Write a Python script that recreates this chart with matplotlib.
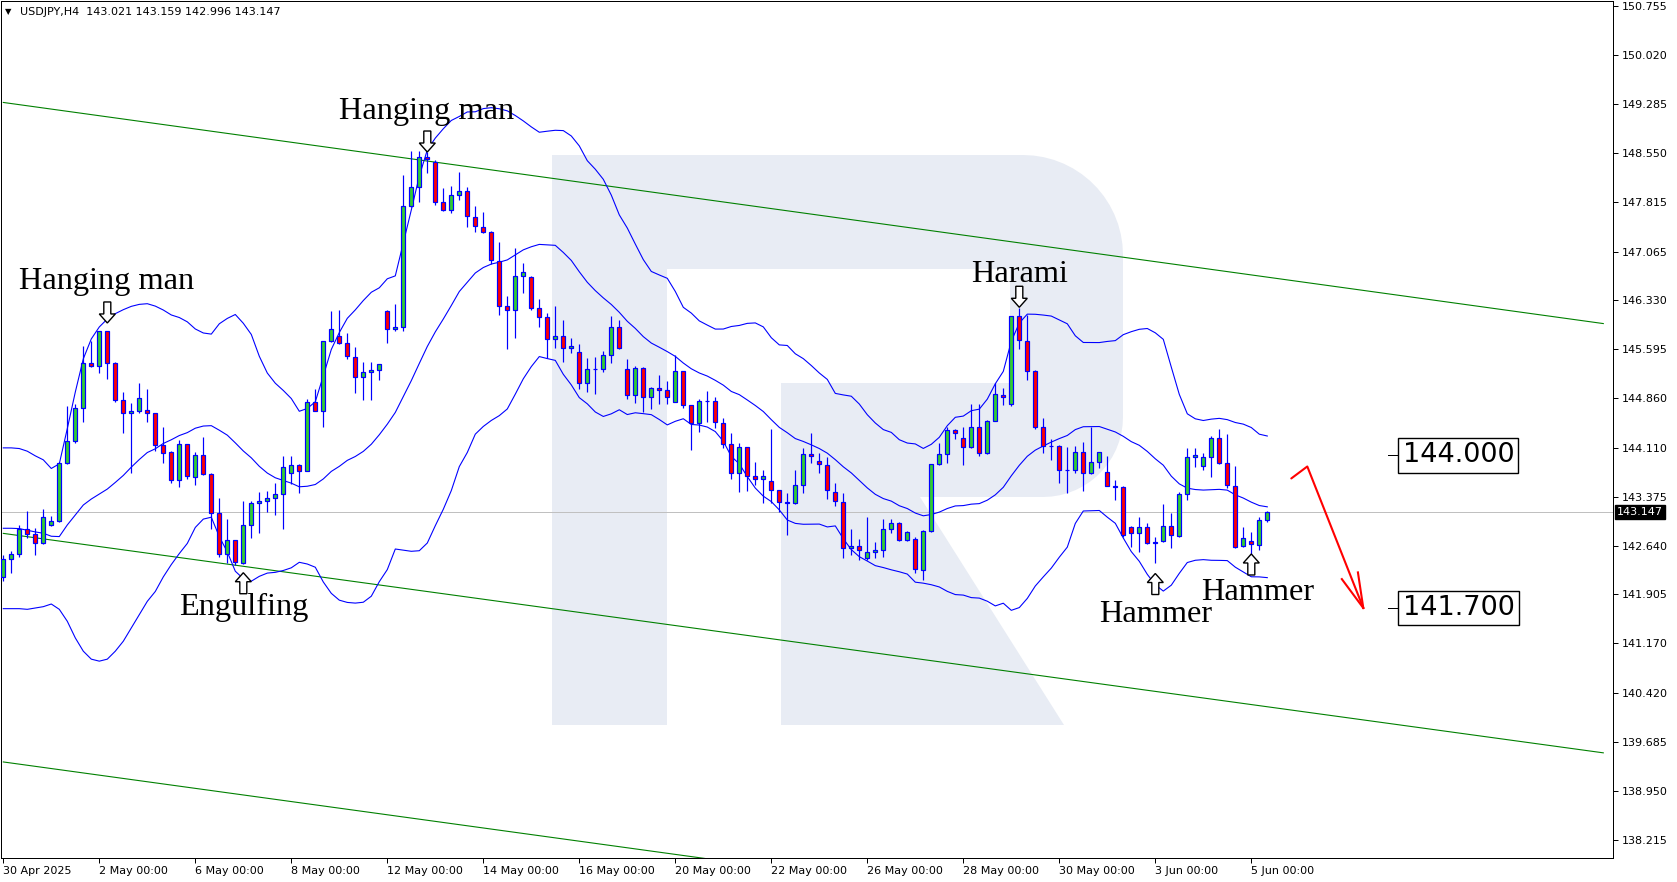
import numpy as np
import matplotlib
matplotlib.use("Agg")
import matplotlib.pyplot as plt
import matplotlib.transforms as mtransforms
from matplotlib.patches import Rectangle, Polygon, PathPatch
from matplotlib.path import Path
from matplotlib.lines import Line2D

# ---------------- data (USDJPY H4) ----------------
opens = [142.162,142.433,142.513,142.894,142.814,142.674,142.945,143.005,143.878,144.209,
         144.706,145.383,145.343,145.864,145.383,144.831,144.630,144.660,144.680,144.630,
         144.149,144.048,143.627,144.164,143.677,144.003,143.717,143.125,142.508,142.719,
         142.373,142.945,143.276,143.316,143.351,143.411,143.727,143.848,143.767,144.806,
         144.670,145.714,145.794,145.684,145.483,145.172,145.252,145.282,146.175,145.894,
         145.924,147.750,148.041,148.493,148.408,147.806,147.690,147.911,147.981,147.590,
         147.430,147.354,146.928,146.245,146.185,146.697,146.677,146.210,146.075,145.749,
         145.789,145.608,145.548,145.082,145.290,145.292,145.503,145.924,145.292,144.901,
         145.307,144.881,145.006,144.976,144.806,145.262,144.751,144.480,144.814,144.811,
         144.480,144.164,143.737,144.118,143.687,143.637,143.617,143.476,143.286,143.276,
         143.552,144.018,143.908,143.853,143.451,143.301,142.598,142.638,142.448,142.550,
         142.573,142.884,142.975,142.724,142.734,142.272,142.859,143.863,144.013,144.372,
         144.254,144.118,144.419,144.038,144.515,144.901,144.771,146.095,145.724,145.267,
         144.419,144.138,144.138,143.777,143.777,144.043,143.727,143.893,143.742,143.527,
         143.527,142.924,142.824,142.924,142.674,142.709,142.939,142.784,143.411,143.968,
         143.838,143.978,144.254,143.878,143.542,142.638,142.714,142.648,143.021]
highs = [142.500,142.563,142.945,143.155,142.900,143.185,143.085,143.890,144.740,144.766,
         145.644,145.724,145.874,145.874,145.408,144.956,144.791,145.082,144.992,144.640,
         144.420,144.060,144.229,144.170,144.048,144.279,143.730,143.351,143.035,142.730,
         143.311,143.311,143.451,143.466,143.577,143.993,143.993,143.860,144.841,144.992,
         145.720,146.175,146.185,145.834,145.634,145.403,145.403,145.368,146.190,146.275,
         148.217,148.578,148.578,148.560,148.443,148.017,148.052,148.257,148.042,147.756,
         147.665,147.370,147.204,146.396,147.124,146.888,146.690,146.351,146.145,146.245,
         146.035,145.759,145.674,145.458,145.473,145.568,146.095,146.035,145.443,145.342,
         145.320,145.031,145.207,145.112,145.508,145.270,144.760,144.841,144.971,144.871,
         144.555,144.339,144.179,144.130,143.893,143.777,144.389,143.480,143.436,143.777,
         144.104,144.329,144.038,143.978,143.577,143.436,142.884,142.734,143.075,142.700,
         143.040,143.040,142.990,142.860,142.774,142.870,143.870,144.179,144.430,144.400,
         144.430,144.766,144.766,144.530,145.082,145.007,146.100,146.211,146.110,145.280,
         144.555,144.239,144.150,144.128,144.143,144.204,144.430,144.050,143.993,143.627,
         143.540,142.940,143.065,142.985,142.774,143.266,143.125,143.441,144.103,144.103,
         144.038,144.289,144.389,144.319,143.837,142.924,142.849,143.065,143.159]
lows = [142.100,142.220,142.470,142.760,142.500,142.660,142.930,142.990,143.870,144.180,
        144.505,145.330,145.242,145.142,144.800,144.329,143.727,144.640,144.505,144.058,
        143.888,143.577,143.527,143.647,143.552,143.700,142.894,142.473,142.373,142.348,
        142.360,142.749,142.834,143.150,143.100,142.894,143.567,143.436,143.760,144.660,
        144.430,145.700,145.670,145.443,144.931,144.831,144.831,145.132,145.694,145.870,
        145.874,147.740,147.815,148.252,147.766,147.680,147.640,147.841,147.440,147.364,
        147.350,146.878,146.110,145.593,145.759,146.436,146.180,145.935,145.458,145.618,
        145.398,145.533,144.991,144.956,144.916,145.257,145.383,145.593,144.841,144.791,
        144.655,144.690,144.771,144.766,144.800,144.706,144.078,144.354,144.505,144.414,
        144.104,143.637,143.451,143.466,143.547,143.276,143.276,143.145,142.794,143.270,
        143.426,143.888,143.727,143.346,143.236,142.448,142.498,142.423,142.423,142.450,
        142.473,142.824,142.714,142.714,142.232,142.122,142.850,143.850,143.878,144.239,
        143.853,144.110,143.988,144.020,144.510,144.756,144.741,145.593,145.132,144.395,
        144.038,143.928,143.587,143.426,143.727,143.466,143.720,143.802,143.530,143.326,
        142.774,142.623,142.548,142.660,142.373,142.700,142.598,142.770,143.326,143.828,
        143.777,143.667,143.870,143.501,142.598,142.620,142.498,142.573,142.996]
closes = [142.433,142.513,142.894,142.814,142.674,143.065,143.010,143.878,144.209,144.706,
          145.383,145.343,145.864,145.383,144.831,144.630,144.660,144.856,144.630,144.149,
          144.038,143.627,144.164,143.692,144.003,143.717,143.125,142.508,142.719,142.388,
          142.945,143.276,143.311,143.351,143.411,143.818,143.848,143.767,144.796,144.670,
          145.714,145.895,145.684,145.493,145.172,145.252,145.277,145.368,145.895,145.924,
          147.750,148.041,148.493,148.453,147.806,147.690,147.911,147.981,147.600,147.450,
          147.354,146.938,146.245,146.185,146.697,146.752,146.210,146.075,145.749,145.789,
          145.608,145.638,145.082,145.292,145.294,145.503,145.924,145.618,144.901,145.307,
          144.881,145.006,144.981,144.871,145.262,144.751,144.480,144.811,144.816,144.505,
          144.164,143.737,144.118,143.687,143.637,143.687,143.476,143.291,143.288,143.552,
          144.013,143.988,143.868,143.476,143.311,142.598,142.638,142.573,142.548,142.570,
          142.884,142.975,142.724,142.839,142.282,142.859,143.863,144.013,144.372,144.329,
          144.118,144.419,144.028,144.515,144.916,144.871,146.095,145.734,145.267,144.419,
          144.138,144.143,143.777,143.779,144.043,143.727,143.893,144.043,143.537,143.529,
          142.799,142.824,142.924,142.674,142.699,142.939,142.799,143.411,143.978,144.003,
          143.978,144.254,143.878,143.552,142.623,142.759,142.659,143.025,143.147]

# Bollinger band values for the first 19 bars (earlier history is off-chart)
bb_upper_head = [144.11,144.11,144.10,144.06,143.99,143.93,143.80,143.87,144.40,144.95,
                 145.45,145.75,145.93,146.05,146.13,146.19,146.24,146.27,146.28]
bb_lower_head = [141.69,141.69,141.69,141.68,141.70,141.72,141.76,141.68,141.50,141.25,
                 141.05,140.93,140.90,140.93,141.05,141.20,141.40,141.60,141.80]
bb_period = 20
bb_dev = 2.0

x_label_bars = [0, 12, 24, 36, 48, 60, 72, 84, 96, 108, 120, 132, 144, 156]
x_labels = ["30 Apr 2025", "2 May 00:00", "6 May 00:00", "8 May 00:00", "12 May 00:00",
            "14 May 00:00", "16 May 00:00", "20 May 00:00", "22 May 00:00", "26 May 00:00",
            "28 May 00:00", "30 May 00:00", "3 Jun 00:00", "5 Jun 00:00"]
y_ticks = [150.755, 150.020, 149.285, 148.550, 147.815, 147.065, 146.330, 145.595, 144.860,
           144.110, 143.375, 142.640, 141.905, 141.170, 140.420, 139.685, 138.950, 138.215]

# trend channel lines: (bar, price) end points
channel_top = [(0, 149.309), (200, 145.981)]
channel_mid = [(0, 142.823), (200, 139.520)]
channel_bot = [(0, 139.383), (200, 136.070)]

levels = [144.000, 141.700]
forecast_x = [161, 163, 170]
forecast_y = [143.65, 143.83, 141.70]

pattern_names = ["Hanging man", "Hanging man", "Engulfing", "Harami", "Hammer", "Hammer"]
pattern_bars = [13, 53, 30, 127, 144, 156]
pattern_arrow_price = [145.99, 148.563, 142.231, 146.226, 142.219, 142.513]
pattern_dir = ["down", "down", "up", "down", "up", "up"]
pattern_text_x = [12.9, 52.9, 30.0, 127.0, 144.0, 156.8]
pattern_text_y = [146.495, 149.054, 141.600, 146.607, 141.490, 141.826]

symbol = "USDJPY,H4"

# ---------------- layout ----------------
W, H = 1677, 882
X0, DX = 3.3, 8.0                 # pixel x of bar 0, pixels per bar
P0, PY = 150.851, 0.015051        # price at pixel row 0, price per pixel
BLUE = "#0000FF"
GREEN_BODY = "#32CD32"
RED_BODY = "#FF0000"
CH_GREEN = "#008000"
PX = 0.72  # 1 pixel in points

fig = plt.figure(figsize=(W / 100, H / 100), dpi=100)
fig.patch.set_facecolor("white")
ax = fig.add_axes([1 / W, (H - 858) / H, 1612 / W, 857 / H])
ax.set_facecolor("white")
ax.set_xlim((1 - X0) / DX, (1613 - X0) / DX)
ax.set_ylim(P0 - PY * 858, P0 - PY * 1)

# ---------------- watermark "R" (figure pixel coordinates) ----------------
def arc(cx, cy, r, t0, t1, k=16):
    t = np.radians(np.linspace(t0, t1, k))
    return [(cx + r * np.cos(a), cy - r * np.sin(a)) for a in t]

rv = [(552, 725), (552, 155)]
rv += arc(1023, 255, 100, 90, 0)
rv += arc(1043, 417, 80, 0, -90)
rv += [(920, 497), (1064, 725), (781, 725), (781, 383), (1010, 383), (1010, 269),
       (667, 269), (667, 725), (552, 725)]
pix2disp = mtransforms.Affine2D().scale(1, -1).translate(0, H)
wm = Polygon(rv, closed=True, transform=pix2disp, facecolor="#E8ECF4",
             edgecolor="none", zorder=0.5)
ax.add_artist(wm)

# ---------------- current price line ----------------
ax.axhline(closes[-1], color="#C0C0C0", lw=PX, zorder=1)

# ---------------- channel ----------------
for ch in (channel_top, channel_mid, channel_bot):
    ax.plot([ch[0][0], ch[1][0]], [ch[0][1], ch[1][1]], color=CH_GREEN, lw=PX * 1.1, zorder=2)

# ---------------- Bollinger bands ----------------
c = np.array(closes)
n = len(c)
idx = np.arange(n)
upper = np.empty(n)
lower = np.empty(n)
upper[:len(bb_upper_head)] = bb_upper_head
lower[:len(bb_lower_head)] = bb_lower_head
for i in range(bb_period - 1, n):
    w = c[i - bb_period + 1:i + 1]
    m, s = w.mean(), w.std()
    upper[i] = m + bb_dev * s
    lower[i] = m - bb_dev * s
middle = (upper + lower) / 2
for band in (upper, middle, lower):
    ax.plot(idx, band, color=BLUE, lw=PX * 1.1, zorder=3)

# ---------------- candles ----------------
o = np.array(opens); h = np.array(highs); l = np.array(lows)
ax.vlines(idx, l, h, color=BLUE, lw=PX * 1.2, zorder=4)
for i in range(n):
    col = GREEN_BODY if c[i] >= o[i] else RED_BODY
    b = min(o[i], c[i])
    ax.add_patch(Rectangle((i - 0.27, b), 0.54, abs(c[i] - o[i]), facecolor=col,
                           edgecolor=BLUE, lw=PX * 1.2, zorder=5))

# ---------------- pattern annotations ----------------
down_arrow = np.array([(0, 0), (8, 9), (3.5, 9), (3.5, 21), (-3.5, 21), (-3.5, 9), (-8, 9)])
for name, bar, ap, d, tx, ty in zip(pattern_names, pattern_bars, pattern_arrow_price,
                                    pattern_dir, pattern_text_x, pattern_text_y):
    verts = down_arrow.copy()
    if d == "up":
        verts[:, 1] *= -1
    tr = mtransforms.Affine2D() + mtransforms.ScaledTranslation(bar, ap, ax.transData)
    ax.add_artist(Polygon(verts, closed=True, transform=tr, facecolor="white",
                          edgecolor="black", lw=1.0, zorder=7))
    ax.text(tx, ty, name, fontsize=23.3, family=["Liberation Serif", "DejaVu Serif"],
            ha="center", va="baseline", color="black", zorder=8)

# ---------------- forecast arrow ----------------
ax.plot(forecast_x, forecast_y, color="red", lw=1.5, zorder=6, solid_capstyle="round")
tip = ax.transData.transform((forecast_x[-1], forecast_y[-1]))
prev = ax.transData.transform((forecast_x[-2], forecast_y[-2]))
v = (prev - tip) / np.hypot(*(prev - tip))
for ang in (15, -13):
    a = np.radians(ang)
    rot = np.array([[np.cos(a), -np.sin(a)], [np.sin(a), np.cos(a)]])
    bvec = rot @ v * 36
    tr = mtransforms.Affine2D() + mtransforms.ScaledTranslation(forecast_x[-1], forecast_y[-1], ax.transData)
    ax.add_artist(Line2D([0, bvec[0]], [0, bvec[1]], transform=tr, color="red", lw=1.5, zorder=6))

# ---------------- level labels ----------------
for lv in levels:
    ax.plot([(1388 - X0) / DX, (1398.5 - X0) / DX], [lv, lv], color="black", lw=PX, zorder=6)
    ax.text((1402.5 - X0) / DX, lv, f"{lv:.3f}", fontsize=19.5, family="DejaVu Sans",
            ha="left", va="center", color="black", zorder=8,
            bbox=dict(boxstyle="square,pad=0.16", facecolor="white", edgecolor="black", lw=1.0))

# ---------------- axes, ticks ----------------
for sp in ax.spines.values():
    sp.set_color("black")
    sp.set_linewidth(PX)
ax.yaxis.tick_right()
ax.set_yticks(y_ticks)
ax.set_yticklabels([f"{t:.3f}" for t in y_ticks])
ax.tick_params(axis="y", direction="out", length=3.5, width=PX, pad=3, labelsize=8,
               colors="black", left=False, right=True)
ax.set_xticks(x_label_bars)
ax.set_xticklabels(x_labels, ha="left")
ax.tick_params(axis="x", direction="out", length=3.5, width=PX, pad=2.5, labelsize=8,
               colors="black")

# current price tag
ax.annotate(f"{closes[-1]:.3f}", xy=(1.0, closes[-1]), xycoords=("axes fraction", "data"),
            xytext=(4, 0), textcoords="offset pixels", ha="left", va="center",
            color="white", fontsize=8,
            bbox=dict(boxstyle="square,pad=0.2", facecolor="black", edgecolor="black"),
            annotation_clip=False, zorder=9)

# header
fig.text(5 / W, 1 - 12 / H, "\u25BC", fontsize=6, ha="left", va="center", color="black")
fig.text(20 / W, 1 - 12 / H,
         f"{symbol}  {opens[-1]:.3f} {highs[-1]:.3f} {lows[-1]:.3f} {closes[-1]:.3f}",
         fontsize=8, ha="left", va="center", color="black")

fig.savefig("out.png", dpi=100, facecolor="white")
